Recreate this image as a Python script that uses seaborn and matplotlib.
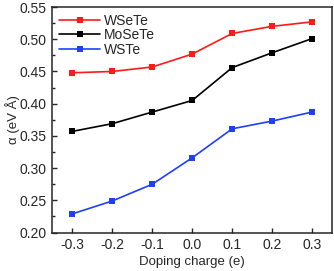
import matplotlib
matplotlib.use("Agg")
import matplotlib.pyplot as plt
from matplotlib.ticker import MultipleLocator
import pandas as pd
import seaborn as sns

# doping charge (e)
charge = [-0.3, -0.2, -0.1, 0.0, 0.1, 0.2, 0.3]
# alpha (eV A) for each material
wsete = [0.448, 0.450, 0.457, 0.477, 0.509, 0.520, 0.527]
mosete = [0.357, 0.369, 0.387, 0.405, 0.456, 0.479, 0.501]
wste = [0.229, 0.249, 0.275, 0.316, 0.361, 0.373, 0.387]
names = ['WSeTe', 'MoSeTe', 'WSTe']
colors = ['#ff1a1a', '#000000', '#1f3fff']

df = pd.DataFrame({'charge': charge * 3,
                   'alpha': wsete + mosete + wste,
                   'material': [n for n in names for _ in charge]})

sns.set_style("ticks")
plt.rcParams['font.family'] = ['Liberation Sans', 'DejaVu Sans']

fig, ax = plt.subplots(figsize=(3.34, 2.71), dpi=100)
sns.lineplot(data=df, x='charge', y='alpha', hue='material', hue_order=names,
             palette=colors, marker='s', markersize=4.5, markeredgewidth=0,
             linewidth=1.2, ax=ax)

ax.set_xlim(-0.35, 0.35)
ax.set_ylim(0.20, 0.55)
ax.set_xticks(charge)
ax.set_xticklabels(['-0.3', '-0.2', '-0.1', '0.0', '0.1', '0.2', '0.3'])
ax.yaxis.set_major_locator(MultipleLocator(0.05))
ax.yaxis.set_minor_locator(MultipleLocator(0.025))
ax.yaxis.set_major_formatter(matplotlib.ticker.FormatStrFormatter('%.2f'))
ax.tick_params(direction='in', labelsize=10, width=1, length=3.5, pad=4)
ax.tick_params(which='minor', direction='in', width=1, length=2)
for s in ax.spines.values():
    s.set_linewidth(1.1)
ax.set_xlabel('Doping charge (e)', fontsize=9.5, labelpad=3)
ax.set_ylabel('α (eV Å)', fontsize=9.5, labelpad=0)
ax.legend(frameon=False, loc='upper left', fontsize=10, handlelength=2.9,
          handletextpad=0.3, labelspacing=0.02, borderaxespad=0.1)

fig.subplots_adjust(left=0.157, right=0.994, top=0.974, bottom=0.142)
fig.savefig('out.png', dpi=100)
